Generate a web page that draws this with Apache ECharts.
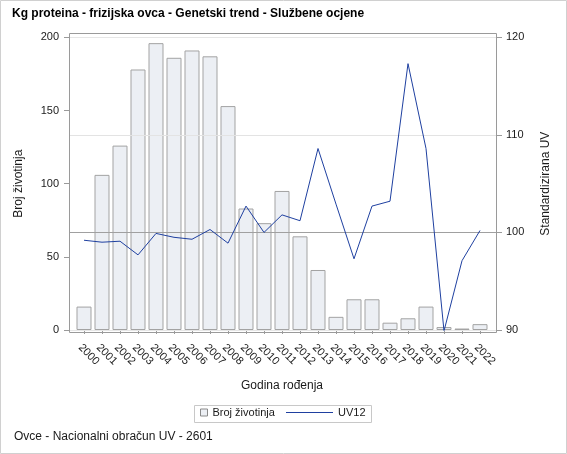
<!DOCTYPE html>
<html lang="hr">
<head>
    <meta charset="UTF-8">
    <title>Kg proteina - frizijska ovca</title>
    <script type="text/javascript" src="https://cdn.jsdelivr.net/npm/echarts@6/dist/echarts.min.js"></script>
    <style>
        html, body { margin: 0; padding: 0; background: #fff; }
        #chart { width: 567px; height: 454px; }
    </style>
</head>
<body>
<div id="chart"></div>
<script type="text/javascript">
    // godine rođenja
    var years = ['2000','2001','2002','2003','2004','2005','2006','2007','2008','2009','2010','2011',
                 '2012','2013','2014','2015','2016','2017','2018','2019','2020','2021','2022'];
    // broj životinja po godini
    var brojZivotinja = [16,106,126,178,196,186,191,187,153,83,73,95,64,41,9,21,21,5,8,16,2,1,4];
    // standardizirana UV12
    var uv12 = [99.2,99.0,99.1,97.7,99.9,99.5,99.3,100.3,98.9,102.7,100.0,101.8,101.2,108.6,
                102.9,97.3,102.7,103.2,117.3,108.6,89.9,97.1,100.2];
    var leftTicks = [0, 200, 50];
    var rightTicks = [90, 120, 10];

    var font = 'Arial, "Liberation Sans", sans-serif';
    var txt = '#1a1a1a';
    var axisGray = '#9a9a9a';
    var lineBlue = '#1f40a0';

    // referentne linije preko cijelog okvira
    function refLine(v, color) {
        return [{ x: 69, yAxis: v, lineStyle: { color: color, type: 'solid', width: 1 } },
                { x: 497, yAxis: v }];
    }

    var chart = echarts.init(document.getElementById('chart'));
    var option = {
        animation: false,
        textStyle: { fontFamily: font },
        title: {
            text: 'Kg proteina - frizijska ovca - Genetski trend - Službene ocjene',
            left: 12, top: 8, padding: 0,
            textStyle: { fontSize: 12, fontWeight: 'bold', color: '#000', fontFamily: font }
        },
        grid: { left: 75, right: 78, top: 37.3, bottom: 124, containLabel: false },
        legend: [{
            data: [{ name: 'Broj životinja', icon: 'rect' }],
            left: 200, top: 407, padding: 0,
            itemWidth: 7, itemHeight: 7, itemGap: 6,
            itemStyle: { color: '#eceff4', borderColor: '#8a8a8a', borderWidth: 1 },
            textStyle: { fontSize: 11, color: txt, fontFamily: font }
        }, {
            data: [{ name: 'UV12', icon: 'rect' }],
            left: 286, top: 407, padding: 0,
            itemWidth: 47, itemHeight: 1.2, itemGap: 6,
            itemStyle: { color: lineBlue },
            lineStyle: { width: 0 },
            textStyle: { fontSize: 11, color: txt, fontFamily: font }
        }],
        graphic: [
            { type: 'rect', silent: true, z: -1, shape: { x: 0.5, y: 0.5, width: 566, height: 453 },
              style: { fill: 'none', stroke: '#d0d0d0', lineWidth: 1 } },
            { type: 'rect', silent: true, z: 100, shape: { x: 69.5, y: 33.5, width: 427, height: 299 },
              style: { fill: 'none', stroke: axisGray, lineWidth: 1 } },
            { type: 'rect', silent: true, z: 100, shape: { x: 194.5, y: 405.5, width: 177, height: 17 },
              style: { fill: 'none', stroke: '#c8c8c8', lineWidth: 1 } },
            { type: 'text', left: 14, top: 431, silent: true,
              style: { text: 'Ovce - Nacionalni obračun UV - 2601', fontSize: 12, fill: txt, fontFamily: font } }
        ],
        xAxis: {
            type: 'category',
            data: years,
            offset: 3,
            name: 'Godina rođenja',
            nameLocation: 'middle',
            nameGap: 47,
            nameTextStyle: { fontSize: 12, color: txt },
            axisLine: { show: false },
            axisTick: { show: true, alignWithLabel: true, length: 4, lineStyle: { color: axisGray } },
            axisLabel: { rotate: -45, margin: 9, fontSize: 11, color: txt, interval: 0,
                         align: 'left', verticalAlign: 'top' }
        },
        yAxis: [{
            type: 'value',
            position: 'left',
            min: leftTicks[0], max: leftTicks[1], interval: leftTicks[2],
            offset: 6,
            name: 'Broj životinja',
            nameLocation: 'middle',
            nameGap: 44,
            nameTextStyle: { fontSize: 12, color: txt },
            axisLine: { show: false },
            axisTick: { show: true, length: 5, lineStyle: { color: axisGray } },
            axisLabel: { margin: 10, fontSize: 11, color: txt },
            splitLine: { show: false }
        }, {
            type: 'value',
            position: 'right',
            min: rightTicks[0], max: rightTicks[1], interval: rightTicks[2],
            offset: 8,
            name: 'Standardizirana UV',
            nameLocation: 'middle',
            nameGap: 43,
            nameRotate: 90,
            nameTextStyle: { fontSize: 12, color: txt },
            axisLine: { show: false },
            axisTick: { show: true, length: 5, lineStyle: { color: axisGray } },
            axisLabel: { margin: 9, fontSize: 11, color: txt },
            splitLine: { show: false }
        }],
        series: [{
            name: 'Broj životinja',
            type: 'bar',
            data: brojZivotinja,
            barWidth: 15,
            itemStyle: { color: '#eceff4', borderColor: '#a3a3a3', borderWidth: 1 }
        }, {
            name: 'UV12',
            type: 'line',
            yAxisIndex: 1,
            data: uv12,
            symbol: 'none',
            showSymbol: false,
            lineStyle: { color: lineBlue, width: 1 },
            itemStyle: { color: lineBlue },
            z: 5,
            markLine: {
                silent: true,
                symbol: 'none',
                label: { show: false },
                z: 4,
                data: [
                    refLine(90, '#e6e6e6'),
                    refLine(110, '#e3e3e3'),
                    refLine(120, '#e6e6e6'),
                    refLine(100, '#a0a0a0')
                ]
            }
        }]
    };
    chart.setOption(option);
</script>
</body>
</html>
